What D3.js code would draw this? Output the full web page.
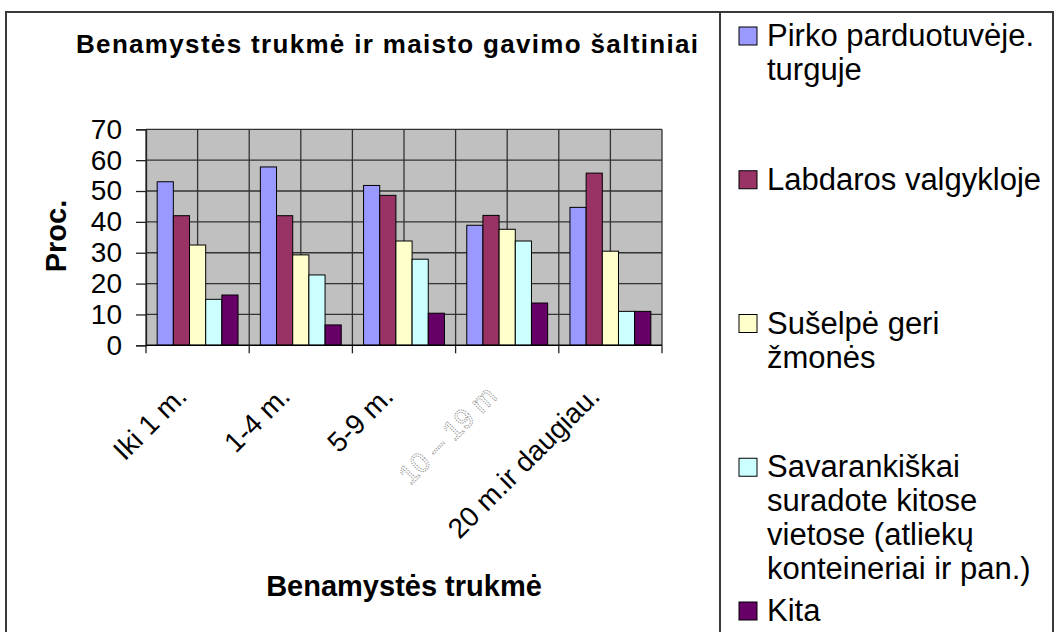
<!DOCTYPE html>
<html>
<head>
<meta charset="utf-8">
<script src="https://cdn.jsdelivr.net/npm/d3@7"></script>
<style>
  html, body { margin: 0; padding: 0; background: #fff; }
  svg { display: block; font-family: "Liberation Sans", Arial, sans-serif; }
</style>
</head>
<body>
<svg id="chart" width="1056" height="632"></svg>
<script>
// ---- data ----
const categories = ["Iki 1 m.", "1-4 m.", "5-9 m.", "10 – 19 m", "20 m.ir daugiau."];
const seriesNames = [
  "Pirko parduotuvėje. turguje",
  "Labdaros valgykloje",
  "Sušelpė geri žmonės",
  "Savarankiškai suradote kitose vietose (atliekų konteineriai ir pan.)",
  "Kita"
];
const pirko        = [53.0, 57.8, 51.8, 38.9, 44.7];
const labdaros     = [42.0, 42.0, 48.6, 42.1, 55.8];
const suselpe      = [32.5, 29.3, 33.8, 37.6, 30.5];
const savarankiskai= [14.9, 22.8, 27.9, 33.8, 11.0];
const kita         = [16.3,  6.6, 10.4, 13.7, 11.0];
const yTicks = [0, 10, 20, 30, 40, 50, 60, 70];
const titleText = "Benamystės trukmė ir maisto gavimo šaltiniai";
const xTitle = "Benamystės trukmė";
const yTitle = "Proc.";

const seriesValues = [pirko, labdaros, suselpe, savarankiskai, kita];
const colors = ["#9999FF", "#993366", "#FFFFCC", "#CCFFFF", "#660066"];

// ---- layout ----
const svg = d3.select("#chart");
const plot = { left: 146, right: 662, top: 129.3, bottom: 345.3 };

const x = d3.scaleBand().domain(categories).range([plot.left, plot.right]).paddingInner(0).paddingOuter(0);
const x1 = d3.scaleBand().domain(d3.range(seriesNames.length)).range([0, x.bandwidth()]).paddingInner(0).paddingOuter(0.69);
const y = d3.scaleLinear().domain([0, 70]).range([plot.bottom, plot.top]);

// frame
svg.append("rect").attr("x", 6).attr("y", 12).attr("width", 1047).attr("height", 640)
  .attr("fill", "#fff").attr("stroke", "#3a3a3a").attr("stroke-width", 2);
svg.append("line").attr("x1", 720).attr("x2", 720).attr("y1", 12).attr("y2", 632)
  .attr("stroke", "#3a3a3a").attr("stroke-width", 2);

// title
svg.append("text").attr("x", 76).attr("y", 53)
  .attr("font-size", 26).attr("font-weight", "bold")
  .attr("textLength", 622).attr("lengthAdjust", "spacing")
  .text(titleText);

// plot background
svg.append("rect").attr("x", plot.left).attr("y", plot.top)
  .attr("width", plot.right - plot.left).attr("height", plot.bottom - plot.top)
  .attr("fill", "#C0C0C0");

// horizontal gridlines
svg.append("g").selectAll("line").data(yTicks.filter(d => d > 0)).join("line")
  .attr("x1", plot.left).attr("x2", plot.right)
  .attr("y1", d => y(d)).attr("y2", d => y(d))
  .attr("stroke", "#333").attr("stroke-width", 1.3);

// vertical gridlines at every half category
const halfSteps = d3.range(categories.length * 2 + 1);
svg.append("g").selectAll("line").data(halfSteps).join("line")
  .attr("x1", i => plot.left + i * x.bandwidth() / 2)
  .attr("x2", i => plot.left + i * x.bandwidth() / 2)
  .attr("y1", plot.top).attr("y2", plot.bottom)
  .attr("stroke", "#333").attr("stroke-width", 1.3);

// bars
const groups = svg.append("g").selectAll("g").data(categories).join("g")
  .attr("transform", c => `translate(${x(c)},0)`);
groups.selectAll("rect")
  .data((c, ci) => seriesValues.map((vals, si) => ({ si, v: vals[ci] })))
  .join("rect")
  .attr("x", d => x1(d.si))
  .attr("width", x1.bandwidth())
  .attr("y", d => y(d.v))
  .attr("height", d => y(0) - y(d.v))
  .attr("fill", d => colors[d.si])
  .attr("stroke", "#000").attr("stroke-width", 1);

// y axis
const yAxis = d3.axisLeft(y).tickValues(yTicks).tickSize(10).tickPadding(14).tickFormat(d3.format("d"));
const gy = svg.append("g").attr("transform", `translate(${plot.left},0)`).call(yAxis);
gy.select(".domain").attr("stroke", "#222").attr("stroke-width", 1.3);
gy.selectAll(".tick line").attr("stroke", "#222").attr("stroke-width", 1.3);
gy.selectAll(".tick text").attr("font-size", 28).attr("fill", "#000")
  .attr("font-family", "Liberation Sans, Arial, sans-serif");

// x axis baseline and ticks at category boundaries
const boundaries = categories.map(c => x(c)).concat([x(categories[categories.length - 1]) + x.bandwidth()]);
svg.append("line").attr("x1", plot.left).attr("x2", plot.right)
  .attr("y1", plot.bottom).attr("y2", plot.bottom)
  .attr("stroke", "#000").attr("stroke-width", 1.5);
svg.append("g").selectAll("line").data(boundaries).join("line")
  .attr("x1", d => d).attr("x2", d => d)
  .attr("y1", plot.bottom).attr("y2", plot.bottom + 8)
  .attr("stroke", "#222").attr("stroke-width", 1.3);

// x category labels (rotated)
svg.append("g").selectAll("text").data(categories).join("text")
  .attr("transform", c => `translate(${x(c) + x.bandwidth() / 2 - 9},398) rotate(-45)`)
  .attr("text-anchor", "end")
  .attr("font-size", 28)
  .attr("fill", (c, i) => i === 3 ? "#fff" : "#000")
  .attr("stroke", (c, i) => i === 3 ? "#8a8a8a" : "none")
  .attr("stroke-width", (c, i) => i === 3 ? 0.9 : 0)
  .attr("stroke-dasharray", (c, i) => i === 3 ? "1.3 1.1" : null)
  .text(c => c);

// axis titles
svg.append("text").attr("x", (plot.left + plot.right) / 2).attr("y", 596)
  .attr("text-anchor", "middle").attr("font-size", 29).attr("font-weight", "bold")
  .text(xTitle);
svg.append("text").attr("transform", "translate(66,236) rotate(-90)")
  .attr("text-anchor", "middle").attr("font-size", 29).attr("font-weight", "bold")
  .text(yTitle);

// legend
const legendY = d3.scaleLinear().domain([0, seriesNames.length - 1]).range([46, 621]);
const legend = svg.append("g");
const lineH = 34, wrapW = 280;
seriesNames.forEach((name, i) => {
  const by = legendY(i);
  legend.append("rect").attr("x", 739).attr("y", by - 19).attr("width", 18).attr("height", 18)
    .attr("fill", colors[i]).attr("stroke", "#000").attr("stroke-width", 1);
  const t = legend.append("text").attr("x", 767).attr("y", by).attr("font-size", 31);
  const words = name.split(" ");
  let line = [];
  let tspan = t.append("tspan").attr("x", 767).attr("y", by);
  let lineNo = 0;
  words.forEach(w => {
    line.push(w);
    tspan.text(line.join(" "));
    if (tspan.node().getComputedTextLength() > wrapW && line.length > 1) {
      line.pop();
      tspan.text(line.join(" "));
      line = [w];
      lineNo++;
      tspan = t.append("tspan").attr("x", 767).attr("y", by + lineNo * lineH).text(w);
    }
  });
});
</script>
</body>
</html>
